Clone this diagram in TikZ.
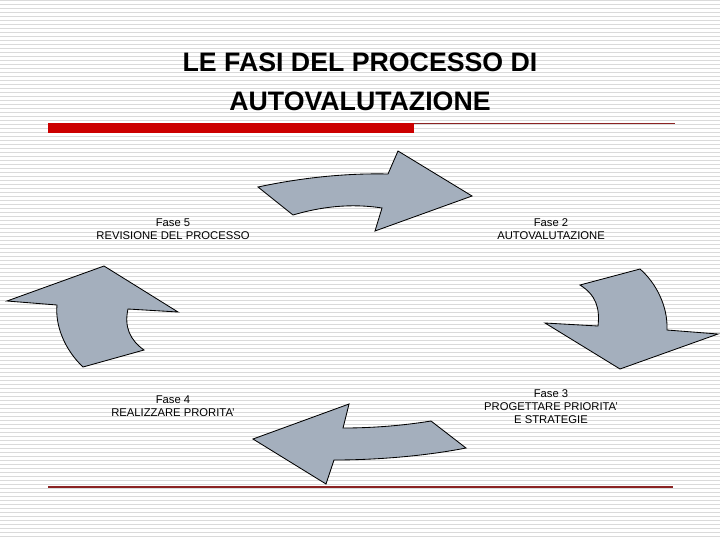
\documentclass[tikz,border=0pt]{standalone}
\usepackage{fontspec}
\setmainfont{Liberation Sans}
\definecolor{arrowgray}{HTML}{A4AFBD}
\definecolor{barred}{HTML}{CC0000}
\definecolor{rulered}{HTML}{8B2323}
\definecolor{stripegray}{HTML}{DADADA}
\usetikzlibrary{positioning}

\begin{document}
\begin{tikzpicture}[x=0.025cm, y=-0.025cm,
  stripe/.style={draw=stripegray, line width=0.7pt},
  titletext/.style={font=\fontsize{19}{22}\selectfont\bfseries, inner sep=0pt,
    text height=13.6pt, text depth=0pt},
  phase/.style={align=center, font=\fontsize{8}{9.2}\selectfont, inner sep=0pt},
  bigarrow/.style={fill=arrowgray, draw=black, line width=0.6pt, line join=miter},
]
  \useasboundingbox (0,0) rectangle (720,540);
  \fill[white] (0,0) rectangle (720,540);
  \foreach \yy in {0.5,4.5,...,540} \draw[stripe] (0,\yy) -- (720,\yy);

  % title
  \node[titletext] (t1) at (360,62) {LE FASI DEL PROCESSO DI};
  \node[titletext, below=13.5pt of t1] (t2) {AUTOVALUTAZIONE};

  % rules
  \fill[barred] (48,123.3) rectangle (414,132.7);
  \draw[rulered, line width=0.7pt] (414,123.8) -- (675,123.8);
  \draw[rulered, line width=0.8pt] (48,487) -- (673,487);

  % phases
  \node[phase] (f5) at (173,229.5) {Fase 5\\REVISIONE DEL PROCESSO};
  \node[phase] (f2) at (551,229.5) {Fase 2\\AUTOVALUTAZIONE};
  \node[phase] (f4) at (173,406.5) {Fase 4\\REALIZZARE PRORITA’};
  \node[phase] (f3) at (551,407) {Fase 3\\PROGETTARE PRIORITA’\\E STRATEGIE};

  % arrows
  \draw[bigarrow] (258,187) .. controls (300,178) and (345,173) .. (388,174)
    -- (398,151) -- (472,196) -- (375,231) -- (382,208)
    .. controls (350,203) and (320,207) .. (293,215) -- cycle;
  \draw[bigarrow] (580,285) -- (640,269) .. controls (655,282) and (668,305) .. (667,330)
    -- (718,334) -- (620,369) -- (545,323) -- (598,326)
    .. controls (600,308) and (596,295) .. (580,285) -- cycle;
  \draw[bigarrow] (466,448) -- (431,421) .. controls (400,426) and (370,428) .. (343,428)
    -- (349,404) -- (253,439) -- (326,484) -- (334,460)
    .. controls (370,460) and (420,457) .. (466,448) -- cycle;
  \draw[bigarrow] (7,301) -- (104,266) -- (178,312) -- (128,309)
    .. controls (124,327) and (130,340) .. (144,350) -- (83,367)
    .. controls (65,350) and (55,326) .. (57,305) -- cycle;
\end{tikzpicture}
\end{document}
